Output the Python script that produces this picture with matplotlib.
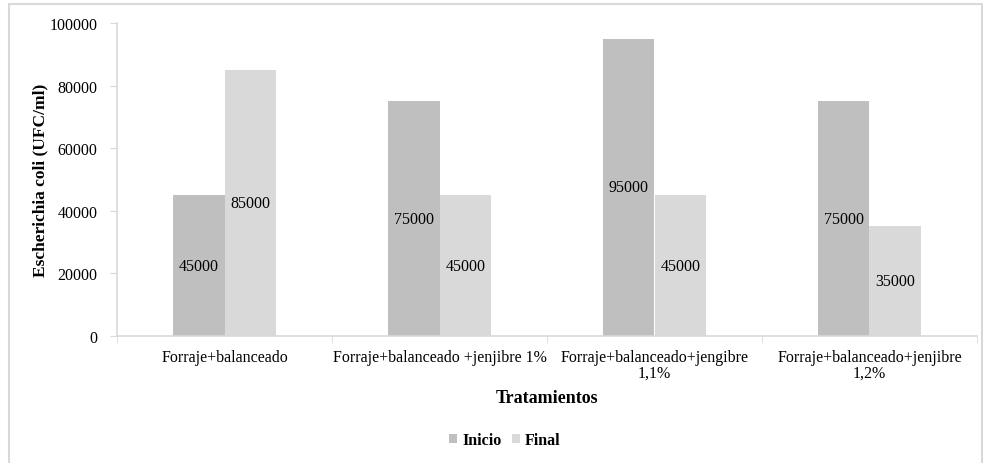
import matplotlib.pyplot as plt
import numpy as np
from matplotlib.patches import Rectangle

plt.rcParams['font.family'] = ['Liberation Serif', 'DejaVu Serif']

# datos del ensayo
tratamientos = ['Forraje+balanceado', 'Forraje+balanceado +jenjibre 1%',
                'Forraje+balanceado+jengibre\n1,1%', 'Forraje+balanceado+jenjibre\n1,2%']
inicio = [45000, 75000, 95000, 75000]
final = [85000, 45000, 45000, 35000]

fig = plt.figure(figsize=(9.83, 4.64), dpi=100)
ax = fig.add_axes([117 / 983, 1 - 337 / 464, (977 - 117) / 983, (337 - 24) / 464])

x = np.arange(len(tratamientos))
w = 0.24
b1 = ax.bar(x - w / 2, inicio, w, color='#bfbfbf', label='Inicio')
b2 = ax.bar(x + w / 2, final, w, color='#d9d9d9', label='Final')
ax.bar_label(b1, label_type='center', fontsize=11.5)
ax.bar_label(b2, label_type='center', fontsize=11.5)

ax.set_xlim(-0.5, len(tratamientos) - 0.5)
ax.set_ylim(0, 100000)
ax.set_yticks(range(0, 100001, 20000))
ax.set_xticks(x)
ax.set_xticklabels(tratamientos, fontsize=11.5, linespacing=1.0)
ax.set_xticks(np.arange(-0.5, len(tratamientos)), minor=True)
ax.tick_params(axis='x', which='major', length=0, pad=9)
ax.tick_params(axis='x', which='minor', length=5, color='#d9d9d9', direction='out')
ax.tick_params(axis='y', length=5, color='#d9d9d9', labelsize=11.5, pad=9)

for s in ['top', 'right']:
    ax.spines[s].set_visible(False)
for s in ['left', 'bottom']:
    ax.spines[s].set_color('#d9d9d9')
    ax.spines[s].set_linewidth(1.2)

ax.set_ylabel('Escherichia coli (UFC/ml)', fontsize=12.5, fontweight='bold', labelpad=1)
ax.set_xlabel('Tratamientos', fontsize=13, fontweight='bold', labelpad=6)

fig.legend(handles=[b1, b2], loc='center', bbox_to_anchor=(505 / 983, 1 - 441 / 464),
           ncol=2, frameon=False, prop={'weight': 'bold', 'size': 11.5},
           handlelength=0.5, handleheight=0.5, handletextpad=0.3, columnspacing=0.7)

# marco exterior
fig.patches.append(Rectangle((9 / 983, -0.1), (982 - 9) / 983, 1.1 - 4.5 / 464,
                             transform=fig.transFigure, fill=False,
                             edgecolor='#d9d9d9', linewidth=1.5))

fig.savefig('out.png', dpi=100)
